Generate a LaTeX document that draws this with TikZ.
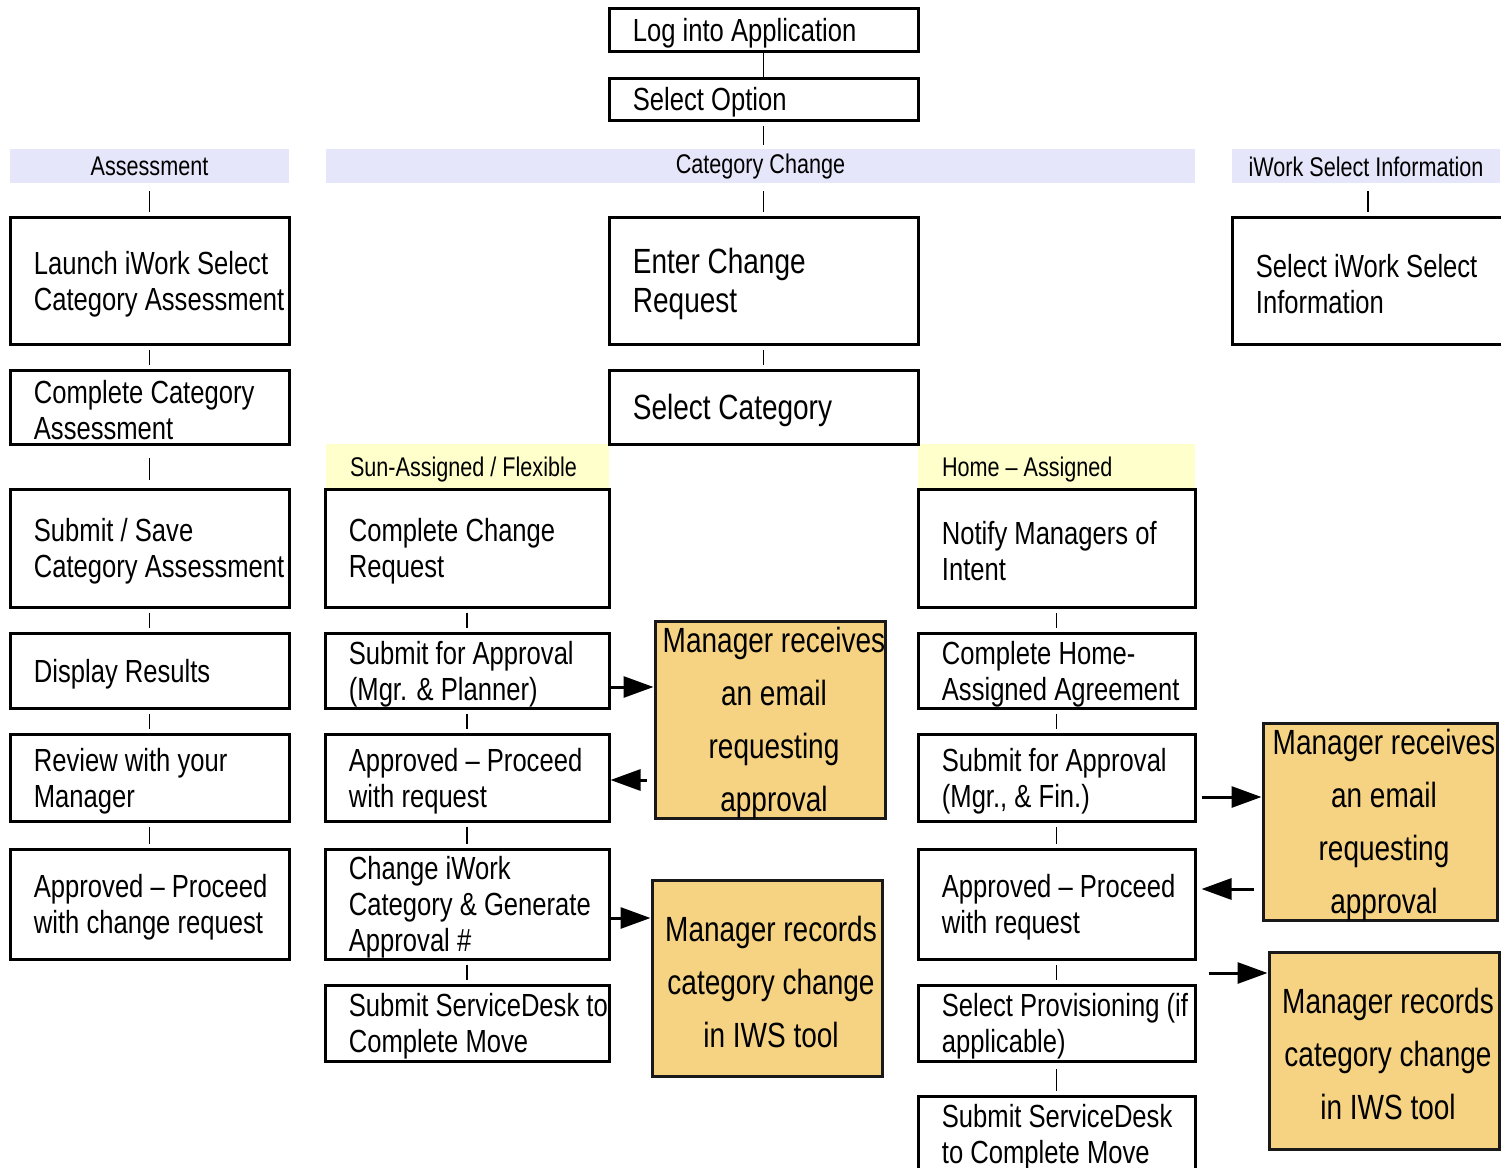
\documentclass[tikz,border=0pt]{standalone}
\usepackage{fontspec}
\setmainfont{Liberation Sans}[FakeStretch=0.8]
\usetikzlibrary{fit,arrows.meta,calc}
\definecolor{lav}{RGB}{230,230,250}
\definecolor{lyel}{RGB}{255,255,204}
\definecolor{org}{RGB}{246,211,130}
\tikzset{
 wbox/.style={draw=black, line width=1.5pt, fill=white, inner sep=0pt},
 obox/.style={draw=black!90, line width=1.5pt, fill=org, inner sep=0pt},
 hdr/.style={fill=lav, draw=none, inner sep=0pt},
 subhdr/.style={fill=lyel, draw=none, inner sep=0pt},
 btxt/.style={anchor=west, align=left, inner sep=0pt, yshift=-1.75pt, font=\fontsize{16}{18}\selectfont},
 bigtxt/.style={anchor=west, align=left, inner sep=0pt, yshift=-1.75pt, font=\fontsize{17.5}{19.5}\selectfont},
 otxt/.style={align=center, inner sep=0pt, xshift=2pt, yshift=-1.75pt, font=\fontsize{17.5}{26.5}\selectfont},
 htxt/.style={inner sep=0pt, yshift=-1.75pt, font=\fontsize{13.5}{16}\selectfont},
 toptxt/.style={inner sep=0pt, yshift=-0.25pt, font=\fontsize{13.5}{16}\selectfont},
 conn/.style={line width=0.75pt, shorten <=2pt, shorten >=2pt},
 arr/.style={line width=1.5pt, -{Triangle[length=15pt,width=10.5pt]}},
}
\begin{document}
\begin{tikzpicture}[x=0.5pt,y=-0.5pt]
\useasboundingbox (0,0) rectangle (1501,1168);
\clip (0,0) rectangle (1501,1168);
% headers
\node[hdr, fit={(10,149)(289,183)}] (hA) {};
\node[hdr, fit={(326,149)(1195,183)}] (hC) {};
\node[hdr, fit={(1232,149)(1500,183)}] (hI) {};
\node[toptxt] at (hA.center) {Assessment};
\node[toptxt] at (hC.center) {Category Change};
\node[toptxt] at (hI.center) {iWork Select Information};
\node[subhdr, fit={(326,444)(609,488)}] (hS) {};
\node[subhdr, fit={(918,444)(1195,488)}] (hH) {};
\node[htxt, anchor=west] at ([xshift=12pt]hS.west) {Sun-Assigned / Flexible};
\node[htxt, anchor=west] at ([xshift=12pt]hH.west) {Home -- Assigned};
% top
\node[wbox, fit={(609,8)(918,51)}] (log) {};
\node[btxt] at ([xshift=12.5pt]log.west) {Log into Application};
\node[wbox, fit={(609,78)(918,120)}] (opt) {};
\node[btxt] at ([xshift=12.5pt]opt.west) {Select Option};
% column 1
\node[wbox, fit={(10,217)(289,344)}] (a1) {};
\node[btxt] at ([xshift=12.5pt]a1.west) {Launch iWork Select\\Category Assessment};
\node[wbox, fit={(10,370)(289,444)}] (a2) {};
\node[btxt] at ([xshift=12.5pt]a2.west) {Complete Category\\Assessment};
\node[wbox, fit={(10,489)(289,607)}] (a3) {};
\node[btxt] at ([xshift=12.5pt]a3.west) {Submit / Save\\Category Assessment};
\node[wbox, fit={(10,633)(289,708)}] (a4) {};
\node[btxt] at ([xshift=12.5pt]a4.west) {Display Results};
\node[wbox, fit={(10,734)(289,821)}] (a5) {};
\node[btxt] at ([xshift=12.5pt]a5.west) {Review with your\\Manager};
\node[wbox, fit={(10,849)(289,959)}] (a6) {};
\node[btxt] at ([xshift=12.5pt]a6.west) {Approved -- Proceed\\with change request};
% centre
\node[wbox, fit={(609,217)(918,344)}] (c1) {};
\node[bigtxt] at ([xshift=12.5pt]c1.west) {Enter Change\\Request};
\node[wbox, fit={(609,370)(918,444)}] (c2) {};
\node[bigtxt] at ([xshift=12.5pt]c2.west) {Select Category};
% column 2
\node[wbox, fit={(325,489)(609,607)}] (s1) {};
\node[btxt] at ([xshift=12.5pt]s1.west) {Complete Change\\Request};
\node[wbox, fit={(325,633)(609,708)}] (s2) {};
\node[btxt] at ([xshift=12.5pt]s2.west) {Submit for Approval\\(Mgr. \& Planner)};
\node[wbox, fit={(325,734)(609,821)}] (s3) {};
\node[btxt] at ([xshift=12.5pt]s3.west) {Approved -- Proceed\\with request};
\node[wbox, fit={(325,849)(609,959)}] (s4) {};
\node[btxt] at ([xshift=12.5pt]s4.west) {Change iWork\\Category \& Generate\\Approval \#};
\node[wbox, fit={(325,985)(609,1061)}] (s5) {};
\node[btxt] at ([xshift=12.5pt]s5.west) {Submit ServiceDesk to\\Complete Move};
% column 3
\node[wbox, fit={(918,489)(1195,607)}] (h1) {};
\node[btxt] at ([xshift=12.5pt]h1.west) {Notify Managers of\\Intent};
\node[wbox, fit={(918,633)(1195,708)}] (h2) {};
\node[btxt] at ([xshift=12.5pt]h2.west) {Complete Home-\\Assigned Agreement};
\node[wbox, fit={(918,734)(1195,821)}] (h3) {};
\node[btxt] at ([xshift=12.5pt]h3.west) {Submit for Approval\\(Mgr., \& Fin.)};
\node[wbox, fit={(918,849)(1195,959)}] (h4) {};
\node[btxt] at ([xshift=12.5pt]h4.west) {Approved -- Proceed\\with request};
\node[wbox, fit={(918,985)(1195,1061)}] (h5) {};
\node[btxt] at ([xshift=12.5pt]h5.west) {Select Provisioning (if\\applicable)};
\node[wbox, fit={(918,1096)(1195,1172)}] (h6) {};
\node[btxt] at ([xshift=12.5pt]h6.west) {Submit ServiceDesk\\to Complete Move};
% column 4
\node[wbox, fit={(1232,217)(1504,344)}] (i1) {};
\node[btxt] at ([xshift=12.5pt]i1.west) {Select iWork Select\\Information};
% orange boxes
\node[obox, fit={(655,621)(885,818)}] (o1) {};
\node[otxt] at (o1.center) {Manager receives\\an email\\requesting\\approval};
\node[obox, fit={(652,880)(882,1076)}] (o2) {};
\node[otxt] at (o2.center) {Manager records\\category change\\in IWS tool};
\node[obox, fit={(1263,723)(1497,920)}] (o3) {};
\node[otxt] at (o3.center) {Manager receives\\an email\\requesting\\approval};
\node[obox, fit={(1269,952)(1499,1149)}] (o4) {};
\node[otxt] at (o4.center) {Manager records\\category change\\in IWS tool};
% connectors
\draw[line width=0.75pt] (log.south) -- (opt.north);
\draw[conn] (opt.south) -- (opt.south |- hC.north);
\draw[conn, shorten <=4pt] (c1.north |- hC.south) -- (c1.north);
\draw[conn, shorten <=4pt] (hA.south) -- (a1.north);
\draw[conn, shorten <=4pt] (hI.south -| i1.north) -- (i1.north);
\draw[conn] (a1.south) -- (a2.north);
\draw[conn, shorten <=6pt, shorten >=4pt] (a2.south) -- (a3.north);
\draw[conn] (a3.south) -- (a4.north);
\draw[conn] (a4.south) -- (a5.north);
\draw[conn] (a5.south) -- (a6.north);
\draw[conn] (c1.south) -- (c2.north);
\draw[conn] (s1.south) -- (s2.north);
\draw[conn] (s2.south) -- (s3.north);
\draw[conn] (s3.south) -- (s4.north);
\draw[conn] (s4.south) -- (s5.north);
\draw[conn] (h1.south) -- (h2.north);
\draw[conn] (h2.south) -- (h3.north);
\draw[conn] (h3.south) -- (h4.north);
\draw[conn] (h4.south) -- (h5.north);
\draw[conn, shorten <=3pt] (h5.south) -- (h6.north);
% arrows
\draw[arr] (s2.east |- 0,687) -- (o1.west |- 0,687);
\draw[arr] ($(o1.west |- 0,780)+(-7,0)$) -- (s3.east |- 0,780);
\draw[arr] (s4.east |- 0,918) -- (o2.west |- 0,918);
\draw[arr] ($(h3.east |- 0,797)+(5,0)$) -- (o3.west |- 0,797);
\draw[arr] ($(o3.west |- 0,889)+(-8,0)$) -- ($(h4.east |- 0,889)+(5,0)$);
\coordinate (fs) at ($(h5.east |- 0,973)+(12,0)$);
\draw[arr] (fs) -- (o4.west |- 0,973);
\end{tikzpicture}
\end{document}
